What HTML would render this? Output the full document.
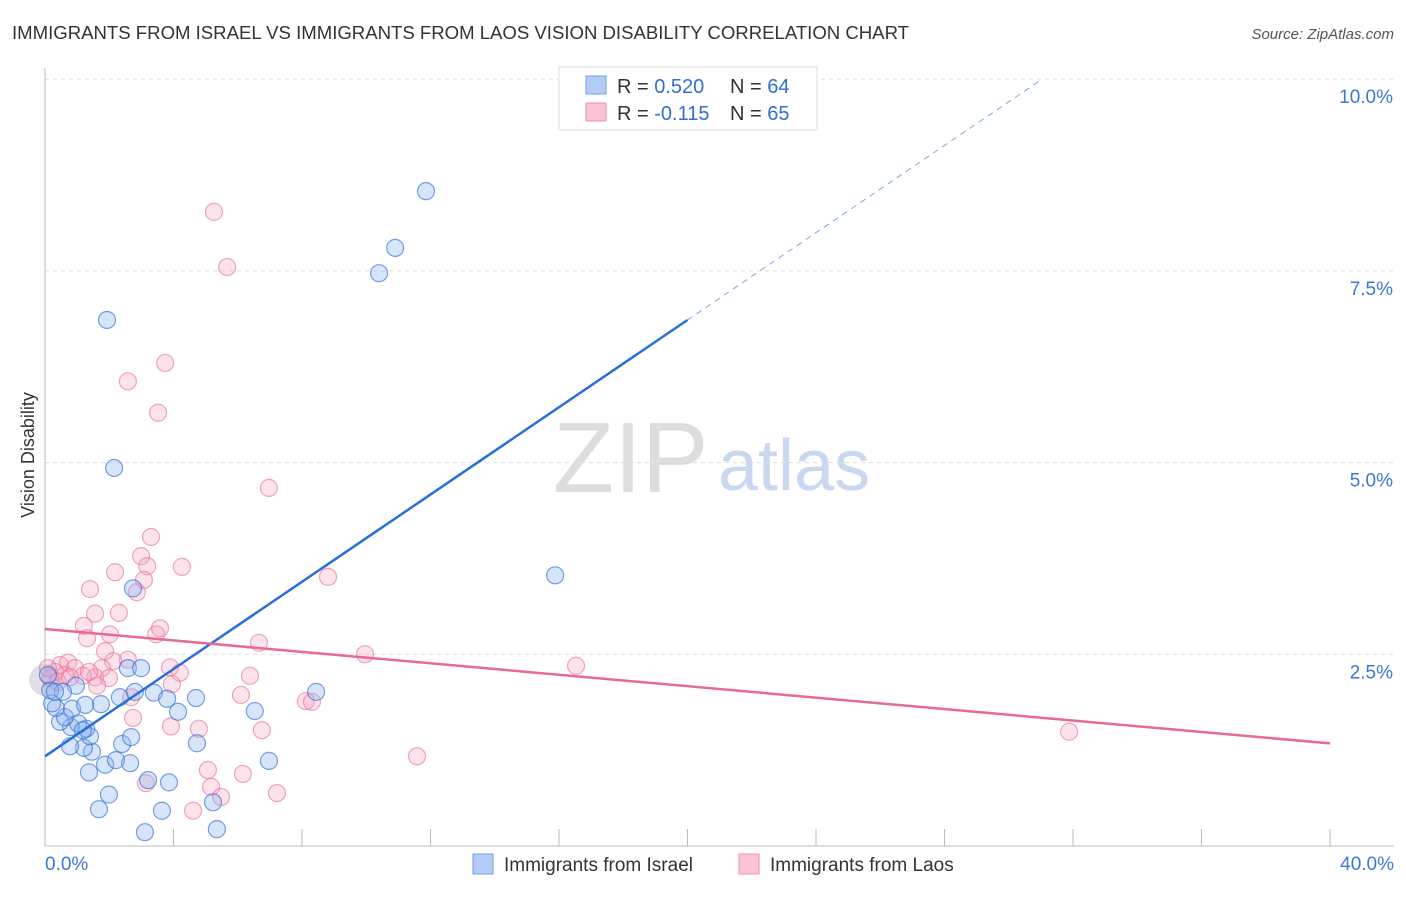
<!DOCTYPE html>
<html><head><meta charset="utf-8"><style>
body{margin:0;background:#fff;font-family:"Liberation Sans",sans-serif;}
svg text{font-family:"Liberation Sans",sans-serif;}
</style></head><body>
<svg id="chart" width="1406" height="892">
<text x="12" y="39" font-size="18.6" fill="#333" textLength="897">IMMIGRANTS FROM ISRAEL VS IMMIGRANTS FROM LAOS VISION DISABILITY CORRELATION CHART</text>
<text x="1394" y="39" font-size="15" fill="#555" font-style="italic" text-anchor="end">Source: ZipAtlas.com</text>
<text x="553" y="492" font-size="100" fill="#ddd" font-family="Liberation Serif">ZIP</text>
<text x="718" y="490" font-size="72" fill="#c8d8f0">atlas</text>
<text x="34" y="455" font-size="18" fill="#333" transform="rotate(-90 34 455)" text-anchor="middle">Vision Disability</text>
<g id="grid"></g><g id="pts"></g><g id="lines"></g>
<g>
<rect x="559" y="67" width="258" height="63" fill="#fff" stroke="#ddd"/>
<rect x="586" y="76" width="20" height="18" fill="#b3cdf5" stroke="#6f9ee6"/>
<rect x="586" y="103" width="20" height="18" fill="#f9c4d4" stroke="#ee90ae"/>
<text x="617" y="93" font-size="20" fill="#333">R = <tspan fill="#2f6fd6">0.520</tspan><tspan x="730">N = </tspan><tspan fill="#2f6fd6">64</tspan></text>
<text x="617" y="120" font-size="20" fill="#333">R = <tspan fill="#2f6fd6">-0.115</tspan><tspan x="730">N = </tspan><tspan fill="#2f6fd6">65</tspan></text>
</g>
<g>
<rect x="473" y="854" width="20" height="20" fill="#b3cdf5" stroke="#6f9ee6"/>
<text x="504" y="871" font-size="19" fill="#333">Immigrants from Israel</text>
<rect x="739" y="854" width="20" height="20" fill="#f9c4d4" stroke="#ee90ae"/>
<text x="770" y="871" font-size="19" fill="#333">Immigrants from Laos</text>
</g>
</svg>
<script>
const israelX=[11.86,10.90,10.40,1.93,2.15,15.88,2.74,8.44,6.53,4.73,6.97,5.23,5.35,3.64,3.11,1.68,1.99,3.21,3.86,1.37,1.87,2.21,2.65,1.46,2.40,2.68,1.21,0.78,1.40,0.81,1.28,1.03,0.47,0.62,0.34,0.22,0.84,1.74,2.33,2.80,3.39,3.80,4.14,4.70,2.58,2.99,0.96,0.56,0.16,0.31,0.09,1.25,1.18];
const israelY=[8.54,7.80,7.47,6.86,4.93,3.53,3.36,2.01,1.76,1.34,1.11,0.57,0.22,0.46,0.18,0.48,0.67,0.86,0.83,0.96,1.06,1.12,1.08,1.23,1.33,1.42,1.28,1.30,1.43,1.55,1.53,1.60,1.62,1.68,1.80,1.86,1.79,1.85,1.94,2.01,2.00,1.92,1.75,1.93,2.32,2.32,2.09,2.01,2.03,2.01,2.23,1.84,1.51];
const laosX=[5.26,5.67,3.74,2.58,3.52,6.97,3.30,2.99,4.26,2.18,3.18,3.08,8.81,1.40,2.86,1.56,2.30,1.21,2.02,1.31,3.46,3.58,6.66,9.96,16.53,31.88,1.87,2.58,2.12,3.89,4.20,1.77,1.56,1.99,6.38,3.95,6.10,2.68,8.12,8.31,2.74,3.92,4.79,6.75,11.58,5.07,6.16,5.17,5.48,7.22,3.14,4.61,0.47,0.72,0.93,0.31,0.62,1.18,0.16,0.40,0.09,0.78,1.62,1.37];
const laosY=[8.27,7.55,6.30,6.06,5.65,4.67,4.03,3.78,3.64,3.57,3.65,3.47,3.51,3.35,3.31,3.03,3.04,2.87,2.76,2.71,2.76,2.84,2.65,2.50,2.35,1.49,2.54,2.43,2.41,2.33,2.26,2.32,2.20,2.19,2.22,2.11,1.97,1.94,1.89,1.88,1.67,1.56,1.53,1.51,1.17,0.99,0.94,0.77,0.64,0.69,0.82,0.46,2.36,2.39,2.32,2.27,2.23,2.22,2.19,2.14,2.32,2.20,2.09,2.27];
const israelFit=[1.17,0.2845];
const laosFit=[2.83,-0.0373];
const yTicks=[2.5,5.0,7.5,10.0];
const xTickLabels=["0.0%","40.0%"];
const NS="http://www.w3.org/2000/svg";
const sx=v=>45+v/40*1285, sy=v=>846-v/2.5*191.7;
function mk(tag,attrs,parent){const e=document.createElementNS(NS,tag);for(const k in attrs)e.setAttribute(k,attrs[k]);parent.appendChild(e);return e;}
const svg=document.getElementById('chart'),grid=document.getElementById('grid'),pts=document.getElementById('pts'),lines=document.getElementById('lines');
yTicks.forEach(t=>{
 const l=mk('line',{x1:45,x2:1394,y1:sy(t),y2:sy(t),stroke:'#ddd','stroke-dasharray':'4,4'},grid);
 
 
 const tx=mk('text',{x:1393,y:sy(t)+24,'font-size':19,fill:'#3b78d8','text-anchor':'end'},grid);
 tx.textContent=t.toFixed(1)+'%';
 
 
});
const ax=mk('line',{x1:45,x2:45,y1:68,y2:846,stroke:'#bbb'},grid);


const bx=mk('line',{x1:45,x2:1394,y1:846,y2:846,stroke:'#bbb'},grid);


for(let i=1;i<=10;i++){const t=mk('line',{x1:sx(i*4),x2:sx(i*4),y1:829,y2:846,stroke:'#bbb'},grid);
 
 }
[[0,'start',45],[40,'end',1394]].forEach((d,i)=>{const t=mk('text',{x:d[2],y:870,'font-size':19,fill:'#3b78d8','text-anchor':d[1]},grid);t.textContent=xTickLabels[i];
 
 });
const big=mk('circle',{cx:45,cy:680,r:16,fill:'rgba(180,170,200,0.4)'},pts);


laosX.forEach((x,i)=>{const c=mk('circle',{cx:sx(x),cy:sy(laosY[i]),r:8.5,fill:'rgba(245,160,190,0.3)',stroke:'rgba(230,110,150,0.6)','stroke-width':1.2},pts);
 
 });
israelX.forEach((x,i)=>{const c=mk('circle',{cx:sx(x),cy:sy(israelY[i]),r:8.5,fill:'rgba(140,180,240,0.35)',stroke:'rgba(50,110,210,0.65)','stroke-width':1.2},pts);
 
 });
const f=(fit,x)=>fit[0]+fit[1]*x;
const l1=mk('line',{x1:sx(0),y1:sy(f(israelFit,0)),x2:sx(20),y2:sy(f(israelFit,20)),stroke:'#2a6fd8','stroke-width':2.5},lines);


const xe=(10.0-israelFit[0])/israelFit[1];
const l2=mk('line',{x1:sx(20),y1:sy(f(israelFit,20)),x2:sx(xe),y2:sy(f(israelFit,xe)),stroke:'#7fa6e0','stroke-width':1,'stroke-dasharray':'6,5'},lines);


const l3=mk('line',{x1:sx(0),y1:sy(f(laosFit,0)),x2:sx(40),y2:sy(f(laosFit,40)),stroke:'#e66a96','stroke-width':2.5},lines);


</script>
</body></html>
